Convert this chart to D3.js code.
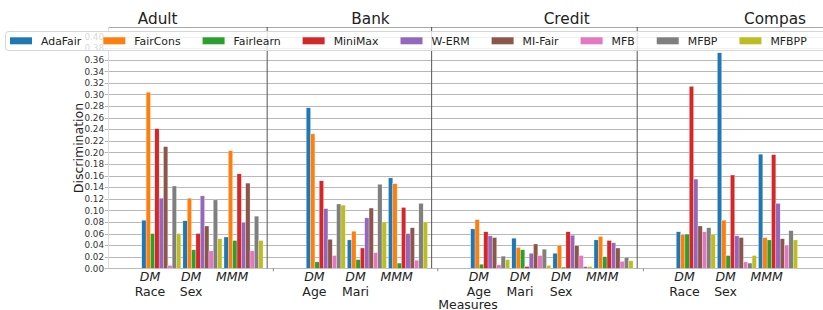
<!DOCTYPE html>
<html>
<head>
<meta charset="utf-8">
<script src="https://cdn.jsdelivr.net/npm/d3@7"></script>
<style>
  body { margin: 0; background: #fff; }
  svg { font-family: "DejaVu Sans", sans-serif; display: block; }
</style>
</head>
<body>
<div id="chart"></div>
<script>
// data
var methods = ["AdaFair", "FairCons", "Fairlearn", "MiniMax", "W-ERM", "MI-Fair", "MFB", "MFBP", "MFBPP"];
var colors = ["#1f77b4", "#ff7f0e", "#2ca02c", "#d62728", "#9467bd", "#8c564b", "#e377c2", "#7f7f7f", "#bcbd22"];
var datasets = ["Adult", "Bank", "Credit", "Compas"];

// one entry per x slot, "" = empty spacer slot between datasets
var slotTop = ["DM", "DM", "MMM", "", "DM", "DM", "MMM", "", "DM", "DM", "DM", "MMM", "", "DM", "DM", "MMM"];
var slotBottom = ["Race", "Sex", "", "", "Age", "Mari", "", "", "Age", "Mari", "Sex", "", "", "Race", "Sex", ""];

var AdaFair   = [0.083, 0.082, 0.054, null, 0.277, 0.049, 0.156, null, 0.068, 0.052, 0.026, 0.049, null, 0.063, 0.372, 0.197];
var FairCons  = [0.304, 0.121, 0.203, null, 0.232, 0.064, 0.146, null, 0.084, 0.036, 0.040, 0.055, null, 0.058, 0.083, 0.053];
var Fairlearn = [0.060, 0.032, 0.048, null, 0.011, 0.015, 0.009, null, 0.007, 0.032, 0.002, 0.020, null, 0.059, 0.022, 0.049];
var MiniMax   = [0.241, 0.060, 0.163, null, 0.151, 0.035, 0.105, null, 0.063, 0.003, 0.063, 0.048, null, 0.314, 0.161, 0.196];
var WERM      = [0.121, 0.125, 0.079, null, 0.103, 0.087, 0.060, null, 0.056, 0.026, 0.057, 0.044, null, 0.154, 0.056, 0.112];
var MIFair    = [0.210, 0.073, 0.147, null, 0.050, 0.104, 0.070, null, 0.053, 0.042, 0.039, 0.035, null, 0.073, 0.053, 0.051];
var MFB       = [0.005, 0.030, 0.030, null, 0.022, 0.027, 0.014, null, 0.006, 0.022, 0.022, 0.012, null, 0.063, 0.011, 0.040];
var MFBP      = [0.142, 0.118, 0.090, null, 0.111, 0.145, 0.112, null, 0.021, 0.033, 0.003, 0.019, null, 0.070, 0.009, 0.065];
var MFBPP     = [0.060, 0.051, 0.048, null, 0.109, 0.080, 0.080, null, 0.015, 0.005, 0.003, 0.013, null, 0.059, 0.022, 0.049];
var series = [AdaFair, FairCons, Fairlearn, MiniMax, WERM, MIFair, MFB, MFBP, MFBPP];

var yTicks = d3.range(0, 0.401, 0.02);

var width = 823, height = 310;

var svg = d3.select("#chart")
  .append("svg")
    .attr("width", width)
    .attr("height", height);

// slot index -> pixel
var x = d3.scaleLinear().domain([0, 15]).range([150, 766.7]);
var y = d3.scaleLinear().domain([0, 0.4165]).range([268.3, 27]);
var left = x(-1.02), right = width;

// bars inside one slot
var sub = d3.scaleBand()
  .domain(methods)
  .range([0, x(0.95) - x(0)]);

// gridlines
svg.append("g")
  .selectAll("line")
  .data(yTicks)
  .enter()
  .append("line")
    .attr("x1", left - 3.5)
    .attr("x2", right)
    .attr("y1", function(d) { return Math.round(y(d)) + 0.5; })
    .attr("y2", function(d) { return Math.round(y(d)) + 0.5; })
    .style("stroke", "#b8b8b8")
    .style("stroke-width", 1);

// frame
svg.append("line")
  .attr("x1", left).attr("x2", right)
  .attr("y1", 27.5).attr("y2", 27.5)
  .style("stroke", "#a8a8a8");
svg.append("line")
  .attr("x1", left + 0.5).attr("x2", left + 0.5)
  .attr("y1", 27).attr("y2", y(0))
  .style("stroke", "#dcdcdc");

// y tick labels
svg.append("g")
  .selectAll("text")
  .data(yTicks)
  .enter()
  .append("text")
    .attr("x", left - 4)
    .attr("y", function(d) { return y(d) + 3.2; })
    .attr("text-anchor", "end")
    .style("font-size", "8.8px")
    .style("fill", "#333")
    .text(function(d) { return d3.format(".2f")(d); });

// bars
series.forEach(function(vals, k) {
  svg.append("g")
    .selectAll("rect")
    .data(vals.map(function(v, i) { return {i: i, v: v}; }).filter(function(d) { return d.v != null; }))
    .enter()
    .append("rect")
      .attr("x", function(d) { return x(d.i - 0.2) + sub(methods[k]); })
      .attr("y", function(d) { return y(d.v); })
      .attr("width", sub.bandwidth())
      .attr("height", function(d) { return y(0) - y(d.v); })
      .style("fill", colors[k])
      .style("stroke", "#fff")
      .style("stroke-width", 0.4)
      .style("stroke-opacity", 0.7);
});

// dataset separators and the small ticks of empty slots
var spacers = slotTop.map(function(t, i) { return t === "" ? i : -1; }).filter(function(i) { return i >= 0; });
svg.append("g")
  .selectAll("line")
  .data(spacers)
  .enter()
  .append("line")
    .attr("x1", function(d) { return x(d - 0.15); })
    .attr("x2", function(d) { return x(d - 0.15); })
    .attr("y1", 27)
    .attr("y2", y(0))
    .style("stroke", "#555")
    .style("stroke-width", 1);
svg.append("g")
  .selectAll("line")
  .data(spacers)
  .enter()
  .append("line")
    .attr("x1", function(d) { return x(d); })
    .attr("x2", function(d) { return x(d); })
    .attr("y1", y(0))
    .attr("y2", y(0) + 3)
    .style("stroke", "#888");

// x tick labels
var xt = svg.append("g")
  .selectAll("text")
  .data(slotTop.map(function(t, i) { return i; }))
  .enter()
  .append("text")
    .attr("text-anchor", "middle")
    .style("font-size", "12.5px")
    .style("fill", "#222");
xt.append("tspan")
  .attr("x", function(i) { return x(i); })
  .attr("y", 281)
  .style("font-style", "italic")
  .text(function(i) { return slotTop[i]; });
xt.append("tspan")
  .attr("x", function(i) { return x(i); })
  .attr("y", 296)
  .text(function(i) { return slotBottom[i]; });

// axis titles
svg.append("text")
  .attr("x", 468)
  .attr("y", 309)
  .attr("text-anchor", "middle")
  .style("font-size", "12.5px")
  .style("fill", "#222")
  .text("Measures");

svg.append("text")
  .attr("transform", "translate(83,148) rotate(-90)")
  .attr("text-anchor", "middle")
  .style("font-size", "12.5px")
  .style("fill", "#222")
  .text("Discrimination");

// dataset titles
var titleX = [157.7, 370.5, 566.7, 775];
svg.append("g")
  .selectAll("text")
  .data(datasets)
  .enter()
  .append("text")
    .attr("x", function(d, i) { return titleX[i]; })
    .attr("y", 24)
    .attr("text-anchor", "middle")
    .style("font-size", "15.3px")
    .style("fill", "#222")
    .text(function(d) { return d; });

// legend across the top
var legend = svg.append("g");
legend.append("rect")
  .attr("x", 5.5)
  .attr("y", 31.5)
  .attr("width", 840)
  .attr("height", 19)
  .attr("rx", 3)
  .style("fill", "#fff")
  .style("fill-opacity", 0.8)
  .style("stroke", "#d6d6d6");

var lx = 10;
methods.forEach(function(m, k) {
  legend.append("rect")
    .attr("x", lx)
    .attr("y", 37.3)
    .attr("width", 22)
    .attr("height", 7)
    .style("fill", colors[k]);
  var t = legend.append("text")
    .attr("x", lx + 31)
    .attr("y", 44.7)
    .style("font-size", "10.9px")
    .style("fill", "#222")
    .text(m);
  lx = lx + 31 + t.node().getComputedTextLength() + 22;
});
</script>
</body>
</html>
